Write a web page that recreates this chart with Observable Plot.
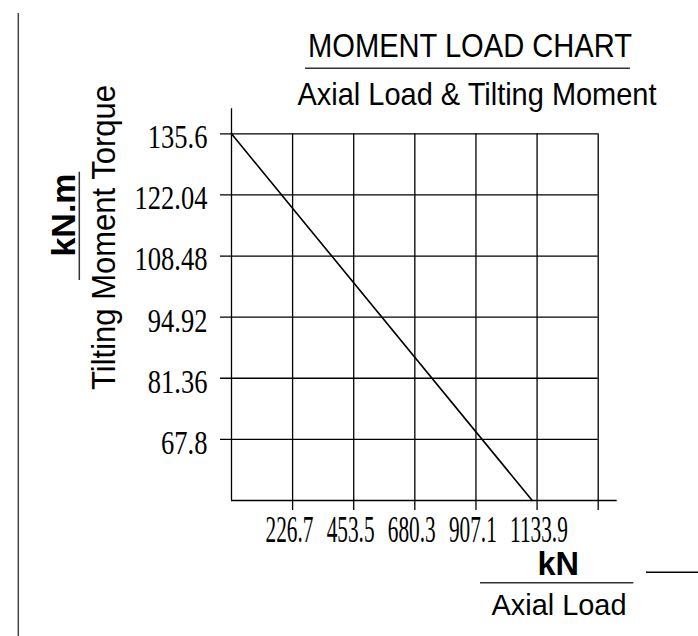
<!DOCTYPE html>
<html>
<head>
<meta charset="utf-8">
<script src="https://cdn.jsdelivr.net/npm/d3@7"></script>
<script src="https://cdn.jsdelivr.net/npm/@observablehq/plot@0.6"></script>
<style>
  html, body { margin: 0; padding: 0; background: #fff; }
  #chart svg { display: block; }
</style>
</head>
<body>
<div id="chart"></div>
<script>
// ---- data ----
const xTicks = [226.7, 453.5, 680.3, 907.1, 1133.9, 1360.7];
const xTickLabels = ["226.7", "453.5", "680.3", "907.1", "1133.9", ""];
const yTicks = [67.8, 81.36, 94.92, 108.48, 122.04, 135.6];
const yTickLabels = ["67.8", "81.36", "94.92", "108.48", "122.04", "135.6"];
const xDomain = [0, 1360.7];
const yDomain = [54.24, 135.6];
const lineAxial = [0, 1116];
const lineMoment = [135.6, 54.24];

const lineData = lineAxial.map((x, i) => ({x, y: lineMoment[i]}));
const xLab = xTicks.map((x, i) => ({x, label: xTickLabels[i]}));
const yLab = yTicks.map((y, i) => ({y, label: yTickLabels[i]}));

const chart = Plot.plot({
  width: 698,
  height: 636,
  marginLeft: 231,
  marginRight: 100.3,
  marginTop: 133.3,
  marginBottom: 136,
  style: {background: "#fff", color: "#000", overflow: "visible"},
  x: {domain: xDomain, axis: null},
  y: {domain: yDomain, axis: null},
  marks: [
    // horizontal grid lines (extend left of axis as ticks)
    Plot.ruleY(yTicks, {x1: xDomain[0], x2: xDomain[1], insetLeft: -11, stroke: "#000", strokeWidth: 1.3}),
    // vertical grid lines (extend below axis as ticks)
    Plot.ruleX(xTicks, {y1: yDomain[1], y2: yDomain[0], insetBottom: -10, stroke: "#000", strokeWidth: 1.3}),
    // axes
    Plot.ruleX([xDomain[0]], {y1: yDomain[1], y2: yDomain[0], insetTop: -25, stroke: "#000", strokeWidth: 1.3}),
    Plot.ruleY([yDomain[0]], {x1: xDomain[0], x2: xDomain[1], insetRight: -19, stroke: "#000", strokeWidth: 1.3}),
    // diagonal
    Plot.line(lineData, {x: "x", y: "y", stroke: "#000", strokeWidth: 1.6}),
    // tick labels
    Plot.text(yLab, {x: () => xDomain[0], y: "y", text: "label", textAnchor: "end", dx: -24, dy: 3.5,
      fontSize: 34, fontFamily: "Liberation Serif", fill: "#000"}),
    Plot.text(xLab, {x: "x", y: () => yDomain[0], text: "label", textAnchor: "start", dx: -27, dy: 29,
      fontSize: 38, fontFamily: "Liberation Serif", fill: "#000"})
  ]
});

document.getElementById("chart").appendChild(chart);

const svg = d3.select(chart);
function isPlainNum(v) { return v !== null && v !== "" && !isNaN(+v); }
function squeeze(group, sx) {
  d3.select(group).selectAll("text").each(function() {
    const x = this.getAttribute("x");
    const y = this.getAttribute("y");
    let tx = 0, ty = 0;
    if (isPlainNum(x)) { tx = +x; this.setAttribute("x", 0); }
    if (isPlainNum(y)) { ty = +y; this.setAttribute("y", 0); }
    let t = this.getAttribute("transform") || "";
    if (tx || ty) t = `translate(${tx},${ty}) ` + t;
    this.setAttribute("transform", t + ` scale(${sx},1)`);
  });
}
const textGroups = chart.querySelectorAll('g[aria-label="text"]');
if (textGroups.length >= 2) {
  squeeze(textGroups[0], 0.78);
  squeeze(textGroups[1], 0.56);
}

// ---- annotations ----
const ann = svg.append("g").attr("font-family", "Liberation Sans, Arial, sans-serif").attr("fill", "#000");
function line(x1, y1, x2, y2, stroke = "#333", w = 1.5) {
  ann.append("line").attr("x1", x1).attr("y1", y1).attr("x2", x2).attr("y2", y2)
    .attr("stroke", stroke).attr("stroke-width", w);
}
function text(str, x, y, size, opts = {}) {
  const t = ann.append("text").attr("x", 0).attr("y", 0)
    .attr("transform", `translate(${x},${y})` + (opts.rotate ? ` rotate(${opts.rotate})` : ""))
    .attr("text-anchor", "middle").attr("font-size", size).text(str);
  if (opts.bold) t.attr("font-weight", "bold");
  if (opts.len) t.attr("textLength", opts.len).attr("lengthAdjust", "spacingAndGlyphs");
  return t;
}

line(18.3, 13, 18.3, 636, "#444", 1.5);

text("MOMENT LOAD CHART", 470, 56.7, 34, {len: 324});
line(305, 68.3, 630, 68.3);
text("Axial Load & Tilting Moment", 477, 105, 32, {len: 359});

text("kN.m", 75, 215, 34, {bold: true, rotate: -90});
line(79.3, 171.7, 79.3, 280);
text("Tilting Moment Torque", 115, 237.5, 34, {rotate: -90, len: 305});

text("kN", 558.3, 575, 32.5, {bold: true});
line(480, 582.7, 633.3, 582.7);
text("Axial Load", 559, 615, 30, {len: 135});
line(646, 572.3, 698, 572.3, "#000", 1.5);
</script>
</body>
</html>
